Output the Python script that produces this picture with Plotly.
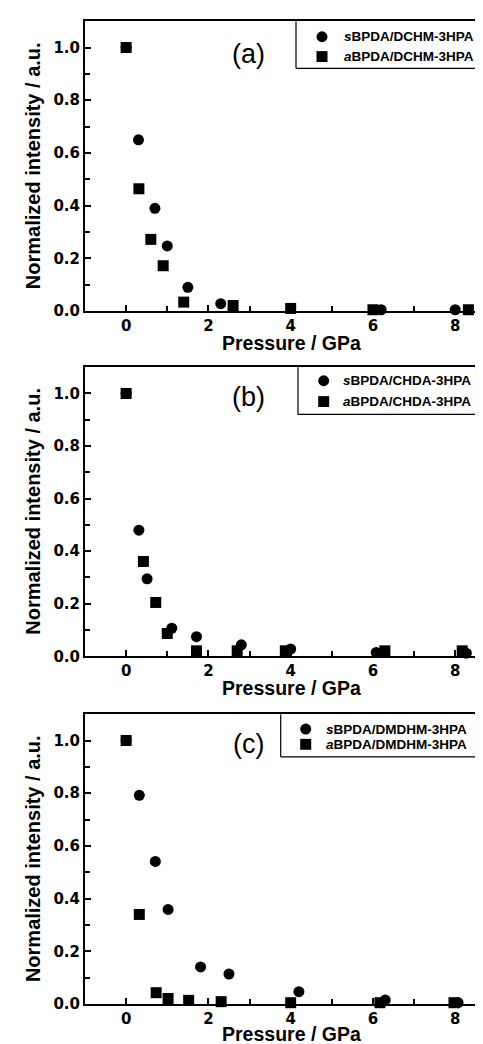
import plotly.graph_objects as go
from plotly.subplots import make_subplots

# ---------------- data ----------------
a_s_x = [0, 0.30, 0.70, 1.00, 1.50, 2.30, 6.20, 8.00]
a_s_y = [1.0, 0.650, 0.390, 0.247, 0.090, 0.028, 0.005, 0.005]
a_a_x = [0, 0.31, 0.60, 0.90, 1.40, 2.60, 4.00, 6.00, 8.32]
a_a_y = [1.0, 0.464, 0.272, 0.172, 0.034, 0.021, 0.010, 0.005, 0.005]

b_s_x = [0, 0.31, 0.51, 1.11, 1.71, 2.80, 4.00, 6.08, 8.27]
b_s_y = [1.0, 0.480, 0.295, 0.107, 0.075, 0.044, 0.028, 0.015, 0.012]
b_a_x = [0, 0.42, 0.72, 1.00, 1.71, 2.70, 3.87, 6.29, 8.17]
b_a_y = [1.0, 0.361, 0.205, 0.087, 0.021, 0.021, 0.021, 0.021, 0.021]

c_s_x = [0, 0.32, 0.71, 1.02, 1.81, 2.50, 4.20, 6.30, 8.07]
c_s_y = [1.0, 0.792, 0.541, 0.359, 0.141, 0.114, 0.047, 0.015, 0.005]
c_a_x = [0, 0.32, 0.73, 1.02, 1.52, 2.31, 4.00, 6.17, 7.97]
c_a_y = [1.0, 0.340, 0.043, 0.021, 0.014, 0.009, 0.005, 0.005, 0.005]

panel_labels = ["(a)", "(b)", "(c)"]
s_names = ["<i>s</i>BPDA/DCHM-3HPA", "<i>s</i>BPDA/CHDA-3HPA", "<i>s</i>BPDA/DMDHM-3HPA"]
a_names = ["<i>a</i>BPDA/DCHM-3HPA", "<i>a</i>BPDA/CHDA-3HPA", "<i>a</i>BPDA/DMDHM-3HPA"]
x_title = "Pressure / GPa"
y_title = "Normalized intensity / a.u."

series = [
    (a_s_x, a_s_y, a_a_x, a_a_y),
    (b_s_x, b_s_y, b_a_x, b_a_y),
    (c_s_x, c_s_y, c_a_x, c_a_y),
]

# ---------------- geometry (pixels) ----------------
W, H = 483, 1044
FONT = "Liberation Sans, Arial, sans-serif"
TICKFONT = "DejaVu Sans, Liberation Sans, sans-serif"
LEFT = 77
panel_top = [13.3, 362.3, 712.3]
panel_bot = [305.7, 654.0, 1004.7]
xtitle_off = [32.0, 31.5, 30.5]
leg_left = [288, 290, 272.7]
leg_bot = [61, 410, 755.3]
leg_sym = [314, 315.7, 297.7]
leg_txt = [334, 333, 315.7]
leg_rows = [(29, 49), (376, 397), (727.3, 742.7)]
lab_pos = [(240, 46), (240.7, 392), (240, 742)]


def px(x):
    return x / W


def py(y):
    return 1 - y / H


fig = make_subplots(rows=3, cols=1)

for i, (sx, sy, ax_, ay) in enumerate(series):
    r = i + 1
    fig.add_trace(go.Scatter(x=sx, y=sy, mode="markers", name=s_names[i],
                             marker=dict(symbol="circle", size=11, color="black"),
                             cliponaxis=False, showlegend=False), row=r, col=1)
    fig.add_trace(go.Scatter(x=ax_, y=ay, mode="markers", name=a_names[i],
                             marker=dict(symbol="square", size=11, color="black"),
                             cliponaxis=False, showlegend=False), row=r, col=1)

tickfont = dict(family=TICKFONT, size=15, color="black", weight="bold")
for i in range(3):
    sfx = "" if i == 0 else str(i + 1)
    fig.layout["xaxis" + sfx].update(
        domain=[px(LEFT), 1.0], range=[-1, 8.87], showline=True, linewidth=2,
        linecolor="black", mirror=True, ticks="inside", ticklen=6, tickwidth=2,
        tickcolor="black", tick0=0, dtick=2, showgrid=False, zeroline=False,
        tickfont=tickfont, ticklabelstandoff=0,
        minor=dict(dtick=1, ticks="inside", ticklen=5, tickwidth=2, tickcolor="black", showgrid=False),
    )
    fig.layout["yaxis" + sfx].update(
        domain=[py(panel_bot[i]), py(panel_top[i])], range=[0, 1.1], showline=True,
        linewidth=2, linecolor="black", ticks="inside", ticklen=6, tickwidth=2,
        tickcolor="black", tick0=0, dtick=0.2, tickformat=".1f", showgrid=False,
        zeroline=False, tickfont=tickfont,
        minor=dict(dtick=0.1, ticks="inside", ticklen=5, tickwidth=2, tickcolor="black", showgrid=False),
    )

annotations = []
shapes = []
for i in range(3):
    # y title
    annotations.append(dict(x=px(25), y=py((panel_top[i] + panel_bot[i]) / 2), xref="paper", yref="paper",
                            text="<b>" + y_title + "</b>", textangle=-90, showarrow=False,
                            font=dict(family=FONT, size=20, color="black"),
                            xanchor="center", yanchor="middle"))
    # x title
    annotations.append(dict(x=px(283), y=py(panel_bot[i] + xtitle_off[i]), xref="paper", yref="paper",
                            text="<b>" + x_title + "</b>", showarrow=False,
                            font=dict(family=FONT, size=19.5, color="black"),
                            xanchor="center", yanchor="middle"))
    # panel label
    annotations.append(dict(x=px(lab_pos[i][0]), y=py(lab_pos[i][1]), xref="paper", yref="paper",
                            text=panel_labels[i], showarrow=False,
                            font=dict(family=FONT, size=27, color="black"),
                            xanchor="center", yanchor="middle"))
    # legend box (left and bottom edges)
    shapes.append(dict(type="line", xref="paper", yref="paper",
                       x0=px(leg_left[i]), x1=px(leg_left[i]), y0=py(panel_top[i]), y1=py(leg_bot[i]),
                       line=dict(color="black", width=1.2)))
    shapes.append(dict(type="line", xref="paper", yref="paper",
                       x0=px(leg_left[i]), x1=1.0, y0=py(leg_bot[i]), y1=py(leg_bot[i]),
                       line=dict(color="black", width=1.2)))
    # legend entries
    names = [s_names[i], a_names[i]]
    kinds = ["circle", "rect"]
    for k in range(2):
        cy = leg_rows[i][k]
        cx = leg_sym[i]
        rr = 5.5
        shapes.append(dict(type=kinds[k], xref="paper", yref="paper",
                           x0=px(cx - rr), x1=px(cx + rr), y0=py(cy + rr), y1=py(cy - rr),
                           fillcolor="black", line=dict(width=0)))
        annotations.append(dict(x=px(leg_txt[i]), y=py(cy), xref="paper", yref="paper",
                                text="<b>" + names[k] + "</b>", showarrow=False,
                                font=dict(family=FONT, size=13.5, color="black"),
                                xanchor="left", yanchor="middle"))

fig.update_layout(
    width=W, height=H, autosize=False,
    margin=dict(l=0, r=0, t=0, b=0),
    paper_bgcolor="white", plot_bgcolor="white",
    showlegend=False,
    annotations=annotations, shapes=shapes,
    font=dict(family=FONT, color="black"),
)

fig.write_html("out.html")
